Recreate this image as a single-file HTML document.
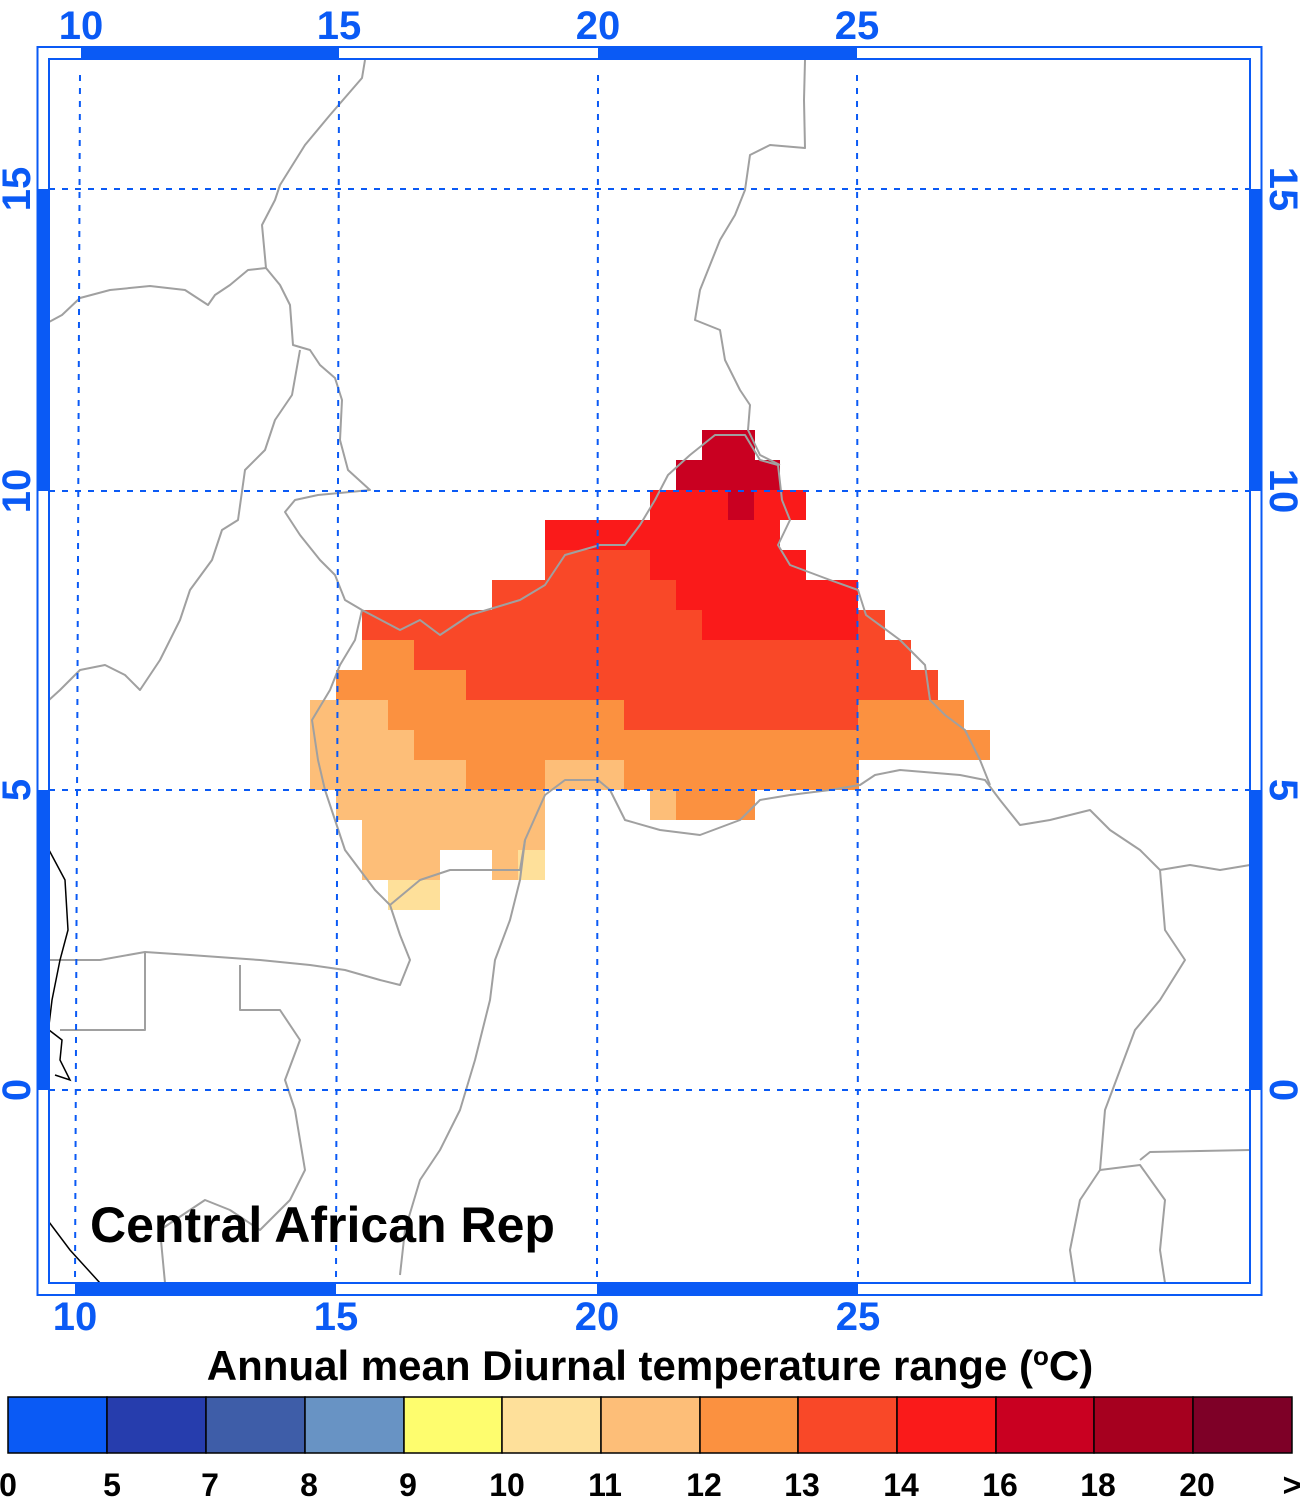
<!DOCTYPE html>
<html><head><meta charset="utf-8"><style>
html,body{margin:0;padding:0;background:#fff;}
svg{display:block;}
</style></head><body>
<svg width="1300" height="1504" viewBox="0 0 1300 1504" xmlns="http://www.w3.org/2000/svg" font-family="Liberation Sans, sans-serif" font-weight="bold">
<g shape-rendering="crispEdges">
<rect x="702" y="430" width="53" height="30" fill="#C90021"/>
<rect x="676" y="460" width="104" height="30" fill="#C90021"/>
<rect x="650" y="490" width="156" height="30" fill="#FA1A1A"/>
<rect x="728" y="490" width="26" height="30" fill="#C90021"/>
<rect x="545" y="520" width="235" height="30" fill="#FA1A1A"/>
<rect x="545" y="550" width="105" height="30" fill="#F94828"/>
<rect x="650" y="550" width="156" height="30" fill="#FA1A1A"/>
<rect x="492" y="580" width="184" height="30" fill="#F94828"/>
<rect x="676" y="580" width="182" height="30" fill="#FA1A1A"/>
<rect x="362" y="610" width="340" height="30" fill="#F94828"/>
<rect x="702" y="610" width="156" height="30" fill="#FA1A1A"/>
<rect x="858" y="610" width="27" height="30" fill="#F94828"/>
<rect x="362" y="640" width="52" height="30" fill="#FB9140"/>
<rect x="414" y="640" width="497" height="30" fill="#F94828"/>
<rect x="336" y="670" width="130" height="30" fill="#FB9140"/>
<rect x="466" y="670" width="472" height="30" fill="#F94828"/>
<rect x="310" y="700" width="78" height="30" fill="#FDBE78"/>
<rect x="388" y="700" width="236" height="30" fill="#FB9140"/>
<rect x="624" y="700" width="234" height="30" fill="#F94828"/>
<rect x="858" y="700" width="106" height="30" fill="#FB9140"/>
<rect x="310" y="730" width="104" height="30" fill="#FDBE78"/>
<rect x="414" y="730" width="576" height="30" fill="#FB9140"/>
<rect x="310" y="760" width="156" height="30" fill="#FDBE78"/>
<rect x="466" y="760" width="79" height="30" fill="#FB9140"/>
<rect x="545" y="760" width="79" height="30" fill="#FDBE78"/>
<rect x="624" y="760" width="235" height="30" fill="#FB9140"/>
<rect x="336" y="790" width="209" height="30" fill="#FDBE78"/>
<rect x="650" y="790" width="26" height="30" fill="#FDBE78"/>
<rect x="676" y="790" width="79" height="30" fill="#FB9140"/>
<rect x="362" y="820" width="183" height="30" fill="#FDBE78"/>
<rect x="362" y="850" width="78" height="30" fill="#FDBE78"/>
<rect x="492" y="850" width="26" height="30" fill="#FDBE78"/>
<rect x="518" y="850" width="27" height="30" fill="#FEE09A"/>
<rect x="388" y="880" width="52" height="30" fill="#FEE09A"/>
</g>
<g fill="none" stroke="#A0A0A0" stroke-width="2" stroke-linejoin="round">
<polyline points="365,60 362,78 330,115 305,145 280,185 275,200 262,225 266,268"/>
<polyline points="266,268 248,270 230,285 215,295 208,305 185,290 150,286 110,290 80,298 62,315 49,322"/>
<polyline points="266,268 280,285 290,305 293,345 310,350 320,365 335,378 342,400 340,440 348,470 370,490 350,492 318,495 295,500 285,512 300,535 320,560 335,575 345,600 362,610"/>
<polyline points="300,350 292,395 275,420 265,450 245,470 238,520 222,530 212,560 190,590 180,620 160,660 140,690 125,675 105,665 80,670 60,690 49,700"/>
<polyline points="362,610 400,630 420,620 440,635 470,615 520,600 545,585 565,555 600,545 625,545 640,525 655,500 668,475 690,455 715,435 745,435 760,460 778,465 782,500 790,520 778,545 790,565 830,580 858,590 866,615 900,640 925,665 930,700 945,715 965,730 980,760 990,785"/>
<polyline points="780,465 760,455 748,430 750,405 740,390 725,360 720,330 695,320 700,290 710,265 720,240 735,215 745,190 750,155 770,145 805,148 804,100 805,60"/>
<polyline points="362,610 355,640 340,665 330,690 312,720 318,760 325,790 335,820 345,850 360,870 375,890 390,905 400,935 410,960 400,985 380,980 345,970 310,965 260,960 190,955 145,952 100,960 49,960"/>
<polyline points="390,905 420,880 450,870 490,870 520,870 525,840 545,795 565,780 598,780 610,790 625,820 660,830 700,835 740,820 760,800 790,795 830,790 860,785 875,775 900,770 960,775 985,780 1000,800 1020,825 1050,820 1090,810 1110,830 1140,850 1160,870 1190,865 1220,870 1250,865"/>
<polyline points="525,840 520,880 510,920 495,960 490,1000 475,1060 460,1110 440,1150 420,1180 405,1230 400,1275"/>
<polyline points="145,952 145,1030 60,1030"/>
<polyline points="240,965 240,1010 280,1010 300,1040 285,1080 295,1110 305,1170 290,1200 260,1230 230,1210 205,1200 160,1230 165,1283"/>
<polyline points="1160,870 1165,930 1185,960 1160,1000 1135,1030 1120,1070 1105,1110 1100,1170 1080,1200 1070,1250 1075,1283"/>
<polyline points="1140,1160 1150,1152 1250,1150"/>
<polyline points="1100,1170 1140,1165 1165,1200 1160,1250 1165,1283"/>
</g>
<g fill="none" stroke="#000" stroke-width="1.5">
<polyline points="49,850 65,880 68,930 60,960 52,1000 49,1025"/>
<polyline points="49,1030 62,1040 60,1060 70,1080 55,1075"/>
<polyline points="49,1222 70,1250 100,1283"/>
</g>
<g stroke="#0A5AF5" stroke-width="2" stroke-dasharray="6,7" fill="none">
<line x1="80" y1="75" x2="75" y2="1283"/>
<line x1="339" y1="75" x2="336" y2="1283"/>
<line x1="598" y1="75" x2="597" y2="1283"/>
<line x1="857" y1="75" x2="858" y2="1283"/>
<line x1="49" y1="189" x2="1250" y2="189"/>
<line x1="49" y1="491" x2="1250" y2="491"/>
<line x1="49" y1="790" x2="1250" y2="790"/>
<line x1="49" y1="1090" x2="1250" y2="1090"/>
</g>
<g fill="#0A5AF5">
<rect x="81" y="47" width="258" height="12"/>
<rect x="598" y="47" width="259" height="12"/>
<rect x="75" y="1283" width="261" height="12"/>
<rect x="597" y="1283" width="261" height="12"/>
<rect x="37" y="189" width="12" height="302"/>
<rect x="37" y="790" width="12" height="300"/>
<rect x="1250" y="189" width="12" height="302"/>
<rect x="1250" y="790" width="12" height="300"/>
</g>
<rect x="37.5" y="47" width="1224" height="1248" fill="none" stroke="#0A5AF5" stroke-width="2"/>
<rect x="49" y="59" width="1201" height="1224" fill="none" stroke="#0A5AF5" stroke-width="2"/>
<g fill="#0A5AF5" font-size="40" text-anchor="middle">
<text x="81" y="39">10</text><text x="339" y="39">15</text><text x="598" y="39">20</text><text x="857" y="39">25</text>
<text x="75" y="1330">10</text><text x="336" y="1330">15</text><text x="597" y="1330">20</text><text x="858" y="1330">25</text>
<text transform="translate(30,189) rotate(-90)">15</text>
<text transform="translate(30,491) rotate(-90)">10</text>
<text transform="translate(30,790) rotate(-90)">5</text>
<text transform="translate(30,1090) rotate(-90)">0</text>
<text transform="translate(1270,189) rotate(90)">15</text>
<text transform="translate(1270,491) rotate(90)">10</text>
<text transform="translate(1270,790) rotate(90)">5</text>
<text transform="translate(1270,1090) rotate(90)">0</text>
</g>
<text x="90" y="1242" font-size="50" fill="#000">Central African Rep</text>
<text x="650" y="1380" font-size="42" fill="#000" text-anchor="middle">Annual mean Diurnal temperature range (<tspan font-size="26" dy="-15">o</tspan><tspan dy="15">C)</tspan></text>
<g stroke="#000" stroke-width="1.5">
<rect x="8" y="1397" width="99" height="56" fill="#0A5AF5"/>
<rect x="107" y="1397" width="99" height="56" fill="#263DAD"/>
<rect x="206" y="1397" width="99" height="56" fill="#3E5DA8"/>
<rect x="305" y="1397" width="99" height="56" fill="#6893C4"/>
<rect x="404" y="1397" width="98" height="56" fill="#FEFD6E"/>
<rect x="502" y="1397" width="99" height="56" fill="#FEE09A"/>
<rect x="601" y="1397" width="99" height="56" fill="#FDBE78"/>
<rect x="700" y="1397" width="98" height="56" fill="#FB9140"/>
<rect x="798" y="1397" width="99" height="56" fill="#F94828"/>
<rect x="897" y="1397" width="99" height="56" fill="#FA1A1A"/>
<rect x="996" y="1397" width="98" height="56" fill="#C90021"/>
<rect x="1094" y="1397" width="99" height="56" fill="#A6001F"/>
<rect x="1193" y="1397" width="99" height="56" fill="#7E0027"/>
</g>
<g font-size="32" fill="#000" text-anchor="middle">
<text x="8" y="1496">0</text><text x="112" y="1496">5</text><text x="210" y="1496">7</text><text x="309" y="1496">8</text><text x="408" y="1496">9</text><text x="507" y="1496">10</text><text x="605" y="1496">11</text><text x="704" y="1496">12</text><text x="802" y="1496">13</text><text x="901" y="1496">14</text><text x="1000" y="1496">16</text><text x="1098" y="1496">18</text><text x="1197" y="1496">20</text><text x="1292" y="1496">&gt;</text>
</g>
</svg>
</body></html>
